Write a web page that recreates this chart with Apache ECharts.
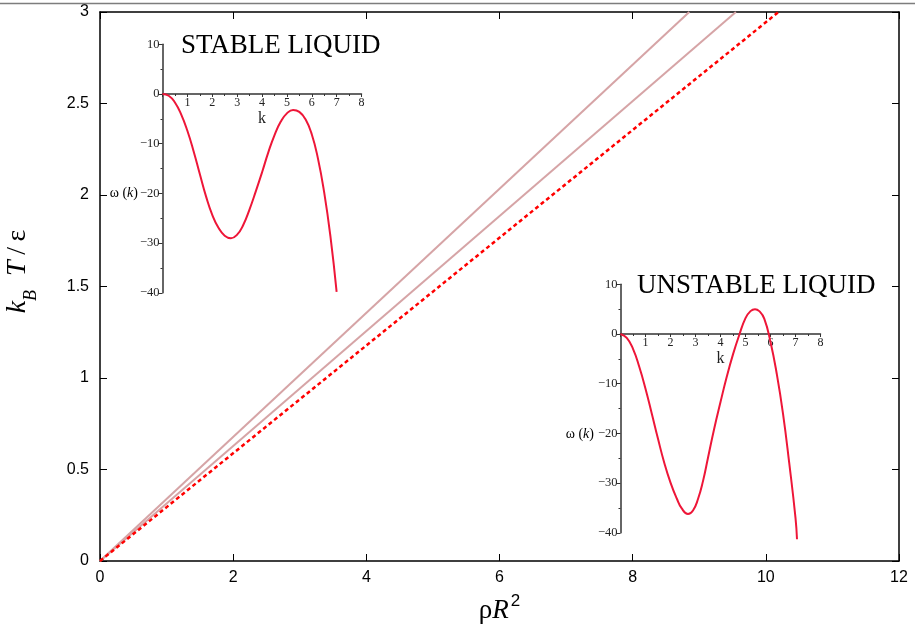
<!DOCTYPE html>
<html>
<head>
<meta charset="utf-8">
<script src="https://cdn.jsdelivr.net/npm/echarts@6/dist/echarts.min.js"></script>
<style>html,body{margin:0;padding:0;background:#fff;}#c{width:915px;height:624px;}</style>
</head>
<body>
<div id="c"></div>
<script>
// ---- main chart data: k_B T / epsilon versus rho R^2 ----
const lineUpper  = [[0, 0], [8.85, 3]];
const lineMiddle = [[0, 0], [9.55, 3]];
const lineDashed = [[0, 0], [10.19, 3]];

// ---- inset data: omega(k) ----
const kStable = [0,0.25,0.5,0.75,1,1.25,1.5,1.75,2,2.25,2.5,2.75,3,3.25,3.5,3.75,4,4.25,4.5,4.75,5,5.25,5.5,5.75,6,6.25,6.5,6.75,7];
const omegaStable = [0,-0.35,-1.7,-4.1,-7.4,-11.5,-16.1,-20.6,-24.3,-26.9,-28.5,-29.0,-28.3,-26.3,-23.2,-19.6,-15.8,-11.8,-8.3,-5.6,-3.9,-3.2,-3.6,-5.1,-8.1,-13.0,-19.8,-28.6,-39.8];
const kUnstable = [0,0.25,0.5,0.75,1,1.25,1.5,1.75,2,2.25,2.45,2.7,2.9,3.1,3.3,3.5,3.75,4,4.25,4.5,4.75,5,5.2,5.38,5.55,5.75,6,6.25,6.5,6.75,7,7.06];
const omegaUnstable = [0,-0.8,-3.0,-6.6,-11.0,-16.0,-21.1,-25.9,-29.9,-33.1,-35.1,-36.2,-35.5,-33.2,-29.6,-24.9,-19.0,-13.7,-8.6,-4.1,-0.2,3.2,4.6,5.0,4.6,3.1,-1.6,-8.0,-16.0,-26.0,-37.0,-41.3];

const xTickStep = 2, yTickStep = 0.5;
const insetKStep = 1, insetOmegaStep = 10;

function zip(a, b) { return a.map((v, i) => [v, b[i]]); }

const chart = echarts.init(document.getElementById('c'), null, {renderer: 'canvas'});

const SANS = 'Liberation Sans';
const SERIF = 'Liberation Serif';
const RED = '#ee1638';
const INSET_H = 248.5;

function minusFmt(v) { return v < 0 ? '\u2212' + Math.abs(v) : String(v); }

function insetX(gridIndex) {
  return {
    type: 'value', gridIndex: gridIndex, position: 'bottom', min: 0, max: 8, interval: insetKStep,
    offset: -INSET_H * 40 / 50,
    axisLine: {show: true, onZero: false, lineStyle: {color: '#333', width: 1.5}},
    axisTick: {show: true, inside: false, length: 3, lineStyle: {color: '#333', width: 1}},
    minorTick: {show: true, splitNumber: 2, length: 2, lineStyle: {color: '#333'}},
    splitLine: {show: false},
    axisLabel: {fontFamily: SERIF, fontSize: 12, color: '#222', margin: 3,
      formatter: v => v === 0 ? '' : String(v)},
    name: 'k', nameLocation: 'middle', nameGap: 17,
    nameTextStyle: {fontFamily: SERIF, fontSize: 16, color: '#222'}
  };
}
function insetY(gridIndex) {
  return {
    type: 'value', gridIndex: gridIndex, min: -40, max: 10, interval: insetOmegaStep,
    axisLine: {show: true, onZero: false, lineStyle: {color: '#333', width: 1.5}},
    axisTick: {show: true, inside: false, length: 4, lineStyle: {color: '#333', width: 1}},
    minorTick: {show: true, splitNumber: 2, length: 2, lineStyle: {color: '#333'}},
    splitLine: {show: false},
    axisLabel: {fontFamily: SERIF, fontSize: 12.5, color: '#222', margin: 3, formatter: minusFmt}
  };
}

const option = {
  backgroundColor: '#fff',
  animation: false,
  grid: [
    {left: 100, top: 12, width: 799, height: 549, outerBoundsMode: 'none', containLabel: false},
    {left: 162.5, top: 44.3, width: 199, height: INSET_H, outerBoundsMode: 'none', containLabel: false},
    {left: 620.5, top: 284.3, width: 200, height: INSET_H, outerBoundsMode: 'none', containLabel: false}
  ],
  xAxis: [
    {
      type: 'value', gridIndex: 0, position: 'bottom', min: 0, max: 12, interval: xTickStep,
      axisLine: {show: true, onZero: false, lineStyle: {color: '#000', width: 1.5}},
      axisTick: {show: true, inside: true, length: 7, lineStyle: {color: '#000', width: 1}},
      splitLine: {show: false},
      axisLabel: {fontFamily: SANS, fontSize: 16, color: '#000', margin: 9},
      name: '{r|ρ}{i|R}{s|2}', nameLocation: 'middle', nameGap: 27,
      nameTextStyle: {
        rich: {
          r: {fontFamily: SERIF, fontSize: 27, color: '#000', lineHeight: 34, verticalAlign: 'bottom'},
          i: {fontFamily: SERIF, fontStyle: 'italic', fontSize: 27, color: '#000', lineHeight: 34, verticalAlign: 'bottom'},
          s: {fontFamily: SANS, fontSize: 17, color: '#000', lineHeight: 34, verticalAlign: 'top', padding: [2, 0, 0, 2]}
        }
      }
    },
    {
      type: 'value', gridIndex: 0, position: 'top', min: 0, max: 12, interval: xTickStep,
      axisLine: {show: true, onZero: false, lineStyle: {color: '#000', width: 1.5}},
      axisTick: {show: true, inside: true, length: 7, lineStyle: {color: '#000', width: 1}},
      splitLine: {show: false}, axisLabel: {show: false}
    },
    insetX(1),
    insetX(2)
  ],
  yAxis: [
    {
      type: 'value', gridIndex: 0, position: 'left', min: 0, max: 3, interval: yTickStep,
      axisLine: {show: true, onZero: false, lineStyle: {color: '#000', width: 1.5}},
      axisTick: {show: true, inside: true, length: 7, lineStyle: {color: '#000', width: 1}},
      splitLine: {show: false},
      axisLabel: {fontFamily: SANS, fontSize: 16, color: '#000', margin: 11},
      name: '{i|k}{b|B}{i|\u2002T}{r|\u2009/\u2009ε}', nameLocation: 'middle', nameGap: 60,
      nameTextStyle: {
        padding: [0, 0, 0, 30],
        rich: {
          i: {fontFamily: SERIF, fontStyle: 'italic', fontSize: 28, color: '#000', lineHeight: 36, verticalAlign: 'top'},
          r: {fontFamily: SERIF, fontSize: 28, color: '#000', lineHeight: 36, verticalAlign: 'top'},
          b: {fontFamily: SERIF, fontStyle: 'italic', fontSize: 18, color: '#000', lineHeight: 36, verticalAlign: 'bottom'}
        }
      }
    },
    {
      type: 'value', gridIndex: 0, position: 'right', min: 0, max: 3, interval: yTickStep,
      axisLine: {show: true, onZero: false, lineStyle: {color: '#000', width: 1.5}},
      axisTick: {show: true, inside: true, length: 7, lineStyle: {color: '#000', width: 1}},
      splitLine: {show: false}, axisLabel: {show: false}
    },
    insetY(1),
    insetY(2)
  ],
  series: [
    {type: 'line', xAxisIndex: 0, yAxisIndex: 0, data: lineUpper, showSymbol: false, symbol: 'none',
     lineStyle: {color: '#d6a4a6', width: 2}, z: 2},
    {type: 'line', xAxisIndex: 0, yAxisIndex: 0, data: lineMiddle, showSymbol: false, symbol: 'none',
     lineStyle: {color: '#d6a4a6', width: 2}, z: 2},
    {type: 'line', xAxisIndex: 0, yAxisIndex: 0, data: lineDashed, showSymbol: false, symbol: 'none',
     lineStyle: {color: '#ff0000', width: 2.5, type: [4, 3]}, z: 3},
    {type: 'line', xAxisIndex: 2, yAxisIndex: 2, data: zip(kStable, omegaStable), smooth: 0.5, symbol: 'none',
     lineStyle: {color: RED, width: 2}, clip: false, z: 4},
    {type: 'line', xAxisIndex: 3, yAxisIndex: 3, data: zip(kUnstable, omegaUnstable), smooth: 0.5, symbol: 'none',
     lineStyle: {color: RED, width: 2}, clip: false, z: 4}
  ],
  graphic: [
    {type: 'line', shape: {x1: 0, y1: 3.5, x2: 915, y2: 3.5}, style: {stroke: '#7d7d7d', lineWidth: 1.5}, z: 10},
    {type: 'text', left: 181, top: 32, style: {text: 'STABLE LIQUID', font: '27px "Liberation Serif"', fill: '#000'}, z: 10},
    {type: 'text', left: 637, top: 272, style: {text: 'UNSTABLE LIQUID', font: '27px "Liberation Serif"', fill: '#000'}, z: 10},
    {type: 'text', x: 138, y: 193, style: {text: '{n|ω (}{i|k}{n|)}', textAlign: 'right', textVerticalAlign: 'middle',
      rich: {n: {fontFamily: SERIF, fontSize: 14, fill: '#000'}, i: {fontFamily: SERIF, fontStyle: 'italic', fontSize: 14, fill: '#000'}}}, z: 10},
    {type: 'text', x: 594, y: 434, style: {text: '{n|ω (}{i|k}{n|)}', textAlign: 'right', textVerticalAlign: 'middle',
      rich: {n: {fontFamily: SERIF, fontSize: 14, fill: '#000'}, i: {fontFamily: SERIF, fontStyle: 'italic', fontSize: 14, fill: '#000'}}}, z: 10}
  ]
};
chart.setOption(option);
</script>
</body>
</html>
